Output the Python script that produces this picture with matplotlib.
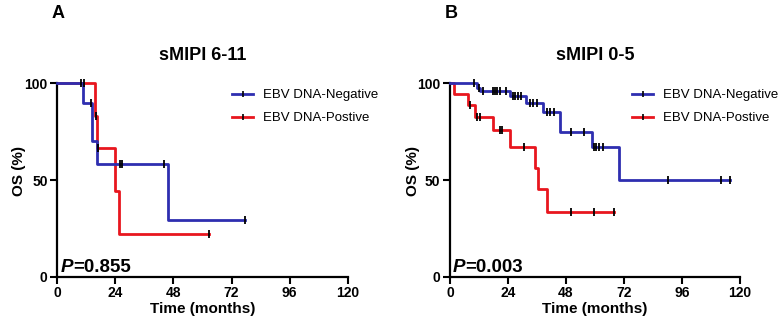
import numpy as np
import matplotlib
matplotlib.use("Agg")
import matplotlib.pyplot as plt
from matplotlib.lines import Line2D

plt.rcParams['font.family'] = ['Liberation Sans', 'DejaVu Sans']

# ---------------- data ----------------
panel_letters = ["A", "B"]
panel_titles = ["sMIPI 6-11", "sMIPI 0-5"]
p_values = ["0.855", "0.003"]
series_labels = ["EBV DNA-Negative", "EBV DNA-Postive"]
x_ticks = [0, 24, 48, 72, 96, 120]
y_ticks = [0, 50, 100]

# Panel A  (sMIPI 6-11)
A_neg_times = [0, 10.7, 14.2, 16.3, 45.8]
A_neg_surv = [100, 90, 70, 58.3, 29.2]
A_neg_end = 77.5
A_neg_cens = [9.7, 14.0, 26.0, 26.8, 44.0, 77.5]

A_pos_times = [0, 15.6, 16.5, 24.0, 25.7]
A_pos_surv = [100, 83.3, 66.7, 44.4, 22.2]
A_pos_end = 62.6
A_pos_cens = [11.0, 15.8, 16.8, 62.6]

# Panel B  (sMIPI 0-5)
B_neg_times = [0, 11.0, 12.5, 25.0, 31.4, 38.6, 45.5, 58.9, 69.9]
B_neg_surv = [100, 97.5, 96.0, 93.4, 89.7, 85.3, 75.0, 66.9, 50.0]
B_neg_end = 116
B_neg_cens = [10.0, 12.0, 13.5, 17.6, 18.6, 19.6, 20.6, 23.0, 26.0, 27.0,
              28.0, 29.2, 33.0, 34.5, 36.0, 40.0, 41.5, 43.0, 50.0, 55.5,
              59.5, 60.6, 61.8, 63.2, 90.0, 112.0, 116.0]

B_pos_times = [0, 1.5, 7.6, 10.3, 17.9, 24.8, 35.2, 36.6, 40.0]
B_pos_surv = [100, 94.5, 89.0, 82.8, 75.9, 67.2, 56.0, 45.3, 33.6]
B_pos_end = 68
B_pos_cens = [8.3, 11.0, 12.4, 20.7, 21.7, 30.8, 50.0, 59.7, 68.0]

panels = [
    [(A_neg_times, A_neg_surv, A_neg_end, A_neg_cens),
     (A_pos_times, A_pos_surv, A_pos_end, A_pos_cens)],
    [(B_neg_times, B_neg_surv, B_neg_end, B_neg_cens),
     (B_pos_times, B_pos_surv, B_pos_end, B_pos_cens)],
]

colors = ['#2e2eb0', '#e8161e']

# ---------------- figure ----------------
W, H = 783, 326
fig = plt.figure(figsize=(W / 100, H / 100), dpi=100)

ax_px = [(57.3, 347.7), (450.0, 740.0)]
y_top_px, y_bot_px = 83.3, 276.7
letter_x = [52, 445]
ylabel_x = [19.5, 412.5]
legend_x = [232, 632]


def surv_at(times, surv, t):
    idx = np.searchsorted(np.asarray(times), t, side='right') - 1
    return np.asarray(surv)[idx]


for i, ax_lim in enumerate(ax_px):
    x0, x1 = ax_lim
    ax = fig.add_axes([x0 / W, (H - y_bot_px) / H, (x1 - x0) / W,
                       (y_bot_px - y_top_px) / H])
    ax.set_xlim(0, 120)
    ax.set_ylim(0, 100)
    for j, (times, surv, end, cens) in enumerate(panels[i]):
        xs = list(times) + [end]
        ys = list(surv) + [surv[-1]]
        ax.step(xs, ys, where='post', color=colors[j], lw=2.0,
                clip_on=False, zorder=3 - j * 0.5)
        cy = surv_at(times, surv, np.asarray(cens))
        ax.plot(cens, cy, ls='none', marker='|', ms=6, mew=1.3,
                color='black', clip_on=False, zorder=4)

    for s in ['top', 'right']:
        ax.spines[s].set_visible(False)
    for s in ['left', 'bottom']:
        ax.spines[s].set_linewidth(1.6)
    ax.set_xticks(x_ticks)
    ax.set_yticks(y_ticks)
    ax.tick_params(direction='out', length=5, width=1.5, labelsize=10, pad=2)
    for lab in ax.get_xticklabels() + ax.get_yticklabels():
        lab.set_fontweight('bold')

    # P value text with italic bold P
    t1 = ax.text(1.3, 2.6, 'P', fontsize=13.5, fontweight='bold',
                 style='italic', va='baseline', ha='left')
    fig.canvas.draw()
    bb = t1.get_window_extent()
    inv = ax.transData.inverted()
    xr = inv.transform((bb.x1, bb.y0))[0]
    ax.text(xr, 2.6, '=' + p_values[i], fontsize=13.5, fontweight='bold',
            va='baseline', ha='left')

    handles = [Line2D([0], [0], color=colors[k], lw=2.0, marker='|', ms=5,
                      mew=1.2, mec='black') for k in range(2)]
    ax.legend(handles, series_labels, loc='upper left',
              bbox_to_anchor=((legend_x[i] - x0) / (x1 - x0), 0.97),
              frameon=False, fontsize=9.5, handlelength=1.6,
              handletextpad=0.75, labelspacing=0.8, borderpad=0,
              borderaxespad=0)

    ax.set_xlabel('Time (months)', fontsize=11, fontweight='bold', labelpad=1)

    # title, letter, ylabel
    fig.text((x0 + x1) / 2 / W, 1 - 55 / H, panel_titles[i], fontsize=13,
             fontweight='bold', ha='center', va='center')
    fig.text(letter_x[i] / W, 1 - 13 / H, panel_letters[i], fontsize=13,
             fontweight='bold', ha='left', va='center')
    fig.text(ylabel_x[i] / W, 1 - 171 / H, 'OS (%)', fontsize=11,
             fontweight='bold', rotation=90, ha='center', va='center')

fig.savefig('out.png', dpi=100)
